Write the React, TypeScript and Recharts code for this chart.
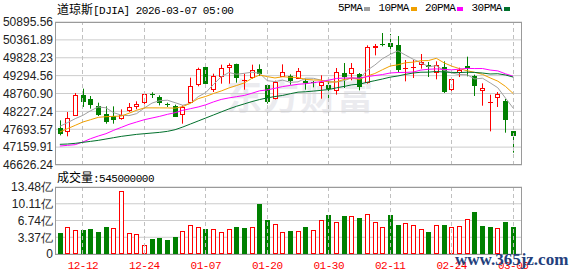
import React from 'react';
import { ComposedChart, Bar, Line, XAxis, YAxis, CartesianGrid, ReferenceLine } from 'recharts';

const DATES = ['12-09','12-10','12-11','12-12','12-15','12-16','12-17','12-18','12-19','12-22','12-23','12-24','12-26','12-29','12-30','12-31','01-02','01-05','01-06','01-07','01-08','01-09','01-12','01-13','01-14','01-15','01-16','01-20','01-21','01-22','01-23','01-26','01-27','01-28','01-29','01-30','02-02','02-03','02-04','02-05','02-06','02-09','02-10','02-11','02-12','02-13','02-17','02-18','02-19','02-20','02-23','02-24','02-25','02-26','02-27','03-02','03-03','03-04','03-05','03-06'];

const OPEN = [47730,47611,48100,48716,48596,48387,48139,48099,47989,48228,48348,48467,48736,48646,48447,48387,48129,48487,49024,49552,48865,49253,49532,49631,49134,49233,49492,49014,48586,49253,49273,49194,49144,49094,48975,49024,48835,49373,49353,49333,49074,50119,50229,50268,50209,49492,49542,49622,49622,49383,49552,48855,49373,49592,49283,48825,48477,48626,48537,47641];
const HIGH = [47959,48208,48776,48905,48686,48487,48377,48377,48288,48477,48527,48776,48796,48706,48487,48427,48407,49233,49532,49651,49353,49622,49661,49651,49353,49622,49631,49034,49144,49631,49333,49522,49203,49134,49303,49144,49522,49671,49671,49373,50199,50239,50567,50537,50477,49761,49761,49940,49701,49721,49721,49184,49532,49860,49323,49064,48726,48805,48597,47641];
const LOW = [47511,47482,48100,48358,48308,48089,47860,47860,47979,48208,48288,48437,48626,48407,48358,48059,47860,48487,48975,48975,48805,49054,49054,49084,48875,49203,49283,48457,48586,49253,49024,49194,48875,48945,48606,48586,48726,48925,49154,48855,49054,49900,50169,49950,49403,49124,49223,49502,49253,49184,48776,48786,49253,49273,48686,48397,47631,48358,47591,46994];
const CLOSE = [47561,48039,48706,48497,48427,48129,47910,47979,48129,48348,48437,48746,48716,48487,48417,48069,48367,48985,49492,49034,49283,49512,49612,49233,49174,49452,49353,48507,49094,49392,49124,49422,49064,49074,49104,48885,49403,49253,49512,48955,50149,50179,50209,50159,49472,49512,49562,49701,49552,49622,48805,49184,49472,49522,48995,48915,48497,48736,47979,47502];
const PREV_CLOSE = 47740;

const MA5 = [47780,47890,48009,48109,48246,48360,48334,48188,48115,48099,48161,48328,48475,48547,48561,48487,48411,48465,48666,48789,49032,49261,49387,49335,49363,49397,49365,49144,49116,49160,49094,49108,49219,49215,49158,49110,49106,49144,49231,49202,49454,49610,49801,49930,50034,49906,49783,49681,49560,49590,49448,49373,49327,49321,49196,49218,49080,48933,48624,48326];
const MA10 = [47611,47711,47810,47910,47979,48049,48069,48079,48089,48172,48260,48331,48332,48331,48330,48324,48370,48470,48606,48675,48760,48836,48926,49000,49076,49214,49313,49265,49225,49261,49245,49236,49182,49166,49159,49102,49107,49182,49223,49180,49282,49358,49472,49581,49618,49680,49696,49741,49745,49812,49677,49578,49504,49440,49393,49333,49227,49130,48973,48761];
const MA20 = [47193,47213,47233,47313,47412,47491,47561,47661,47750,47840,47910,47979,48029,48079,48139,48188,48258,48308,48358,48424,48510,48584,48629,48666,48703,48769,48841,48868,48916,48968,49002,49036,49054,49083,49117,49158,49210,49223,49224,49220,49264,49297,49327,49373,49388,49391,49402,49461,49484,49496,49480,49468,49488,49511,49505,49507,49461,49436,49349,49276];
const MA30 = [47243,47253,47273,47303,47332,47362,47402,47442,47481,47511,47541,47561,47581,47601,47631,47680,47760,47850,47940,48030,48120,48210,48300,48380,48450,48520,48580,48630,48670,48703,48755,48801,48813,48833,48855,48880,48930,48973,49019,49039,49096,49144,49194,49249,49284,49333,49372,49396,49398,49418,49402,49391,49386,49396,49390,49372,49344,49351,49314,49251];

// volume in 亿 (1e8)
const VOLUME = [4.32,5.45,4.85,4.85,5.05,4.52,5.45,5.25,12.63,4.32,4.05,1.86,2.92,3.12,2.73,3.32,4.65,5.78,5.45,5.05,5.05,4.45,5.05,5.45,5.25,5.45,10.04,6.85,5.98,4.45,4.59,4.59,5.38,4.79,6.91,7.78,6.38,7.58,7.58,7.18,7.98,6.38,5.38,7.78,5.78,6.18,5.78,4.99,4.39,5.78,5.78,5.38,5.58,6.98,8.38,5.58,5.38,5.18,6.38,5.45];

const PRICE_TICKS = [46626.24,47159.91,47693.57,48227.24,48760.90,49294.56,49828.23,50361.89,50895.56];
const VOLUME_TICKS = [0,3.37,6.74,10.11,13.48];
const DATE_LABELS = ['12-12','12-24','01-07','01-20','01-30','02-11','02-24','03-06'];

const TITLE_NAME = '道琼斯';
const TITLE_REST = '[DJIA] 2026-03-07 05:00';
const MA_NAMES = ['5PMA','10PMA','20PMA','30PMA'];
const MA_COLORS = ['#a0a0a0','#f0a000','#ff00ff','#00702c'];
const VOLUME_TITLE = '成交量';
const UNIT = '亿';
const WATERMARK = '东方财富';
const SITE_MARK = 'www.365jz.com';

const UP = '#ff0000';
const DOWN = '#008000';
const MONO = '"Liberation Mono", monospace';
const CJK = '"Noto Sans CJK SC", sans-serif';

const PRICE_MIN = PRICE_TICKS[0];
const PRICE_MAX = PRICE_TICKS[PRICE_TICKS.length - 1];
const VOL_MAX = VOLUME_TICKS[VOLUME_TICKS.length - 1];

const data = DATES.map((d, i) => ({
  date: d,
  open: OPEN[i],
  high: HIGH[i],
  low: LOW[i],
  close: CLOSE[i],
  range: [LOW[i], HIGH[i]],
  ma5: MA5[i],
  ma10: MA10[i],
  ma20: MA20[i],
  ma30: MA30[i],
  vol: VOLUME[i],
  volUp: CLOSE[i] >= (i === 0 ? PREV_CLOSE : CLOSE[i - 1]),
}));

const Candle = (props: any) => {
  const { x, y, width, height, payload } = props;
  if (x == null || y == null || !payload) return null;
  const top = Math.min(y, y + height);
  const h = Math.abs(height);
  const hi = payload.high, lo = payload.low;
  const py = (v: number) => (hi === lo ? top : top + ((hi - v) / (hi - lo)) * h);
  const cx = Math.round(x + width / 2);
  const up = payload.close >= payload.open;
  const color = up ? UP : DOWN;
  const yo = py(payload.open), yc = py(payload.close);
  const bt = Math.round(Math.min(yo, yc));
  const bb = Math.round(Math.max(yo, yc));
  return (
    <g>
      <line x1={cx + 0.5} x2={cx + 0.5} y1={top} y2={top + h} stroke={color} strokeWidth={1} />
      {up && bb - bt >= 2 ? (
        <rect x={cx - 2 + 0.5} y={bt + 0.5} width={4} height={bb - bt - 1} fill="#fff" stroke={color} strokeWidth={1} />
      ) : (
        <rect x={cx - 2} y={bt} width={5} height={Math.max(bb - bt, 1)} fill={color} />
      )}
    </g>
  );
};

const VolBar = (props: any) => {
  const { x, y, width, height, payload } = props;
  if (x == null || y == null || !payload) return null;
  const cx = Math.round(x + width / 2);
  const top = Math.round(Math.min(y, y + height));
  const bottom = Math.round(Math.max(y, y + height));
  if (payload.volUp) {
    return <rect x={cx - 2 + 0.5} y={top + 0.5} width={4} height={Math.max(bottom - top - 1, 0)} fill="#fff" stroke={UP} strokeWidth={1} />;
  }
  return <rect x={cx - 2} y={top} width={5} height={bottom - top} fill={DOWN} />;
};

// Snap the library-computed reference-line position to a whole pixel so the 1px dashes stay crisp.
const DashedShape = (p: any) => {
  if (p == null || p.x1 == null || p.y1 == null) return <g />;
  const x = Math.floor(p.x1) + 0.5;
  return <line x1={x} x2={x} y1={p.y1} y2={p.y2} stroke="#c0c0c0" strokeWidth={1} strokeDasharray="4 3" />;
};

const dashed = (key: string) =>
  DATE_LABELS.map((d) => (
    <ReferenceLine key={key + d} x={d} stroke="#c0c0c0" strokeDasharray="4 3" shape={DashedShape} />
  ));

const tickStyle = { fontFamily: '"Liberation Sans", Arial, sans-serif', fontSize: 12, fill: '#222' };

export default function App() {
  return (
    <div style={{ position: 'absolute', left: 0, top: 0, width: 578, height: 276, background: '#fff', overflow: 'hidden' }}>
      <div style={{ position: 'absolute', left: 226, top: 72, fontFamily: CJK, fontWeight: 700, fontSize: 36, lineHeight: '44px', color: '#ebebef', letterSpacing: 1 }}>
        {WATERMARK}
      </div>

      <div style={{ position: 'absolute', left: 0, top: 0 }}>
        <ComposedChart width={578} height={176} data={data} margin={{ top: 22, right: 56, bottom: 11, left: 0 }}>
          <CartesianGrid horizontal={true} vertical={false} stroke="#cccccc" />
          <XAxis dataKey="date" hide padding={{ left: 1, right: 5 }} />
          <YAxis
            domain={[PRICE_MIN, PRICE_MAX]}
            ticks={PRICE_TICKS}
            width={55}
            tickLine={false}
            axisLine={false}
            tickSize={0}
            tickMargin={2}
            tick={tickStyle}
            tickFormatter={(v: number) => v.toFixed(2)}
            allowDataOverflow
            interval={0}
          />
          {dashed('p')}
          <Bar dataKey="range" barSize={5} shape={<Candle />} isAnimationActive={false} />
          <Line dataKey="ma5" stroke={MA_COLORS[0]} strokeWidth={1} dot={false} isAnimationActive={false} />
          <Line dataKey="ma10" stroke={MA_COLORS[1]} strokeWidth={1} dot={false} isAnimationActive={false} />
          <Line dataKey="ma20" stroke={MA_COLORS[2]} strokeWidth={1} dot={false} isAnimationActive={false} />
          <Line dataKey="ma30" stroke={MA_COLORS[3]} strokeWidth={1} dot={false} isAnimationActive={false} />
        </ComposedChart>
      </div>

      <div style={{ position: 'absolute', left: 0, top: 177 }}>
        <ComposedChart width={578} height={99} data={data} margin={{ top: 10, right: 56, bottom: 0, left: 0 }}>
          <CartesianGrid horizontal={true} vertical={false} stroke="#cccccc" />
          <XAxis
            dataKey="date"
            padding={{ left: 1, right: 5 }}
            ticks={DATE_LABELS}
            interval={0}
            height={22}
            tickLine={false}
            axisLine={false}
            tickSize={0}
            tickMargin={7}
            tick={{ fontFamily: MONO, fontSize: 11, fill: '#ff0000', style: { letterSpacing: '-0.5px' } } as any}
          />
          <YAxis
            domain={[0, VOL_MAX]}
            ticks={VOLUME_TICKS}
            width={55}
            tickLine={false}
            axisLine={false}
            tickSize={0}
            tickMargin={2}
            tick={tickStyle}
            tickFormatter={(v: number) => (v === 0 ? '0' : v.toFixed(2) + UNIT)}
            allowDataOverflow
            interval={0}
          />
          {dashed('v')}
          <Bar dataKey="vol" barSize={5} shape={<VolBar />} isAnimationActive={false} />
        </ComposedChart>
      </div>

      <div style={{ position: 'absolute', left: 55, top: 22, width: 467, height: 143, boxSizing: 'border-box', border: '1px solid #9a9a9a', pointerEvents: 'none' }} />
      <div style={{ position: 'absolute', left: 55, top: 187, width: 467, height: 68, boxSizing: 'border-box', border: '1px solid #9a9a9a', pointerEvents: 'none' }} />

      <div style={{ position: 'absolute', left: 57, top: 1, height: 15, lineHeight: '15px', whiteSpace: 'nowrap', color: '#000' }}>
        <span style={{ fontFamily: CJK, fontSize: 12 }}>{TITLE_NAME}</span>
        <span style={{ fontFamily: MONO, fontSize: 11, letterSpacing: '-0.5px' }}>{TITLE_REST}</span>
      </div>

      <div style={{ position: 'absolute', left: 338, top: 1, height: 15, lineHeight: '15px', whiteSpace: 'nowrap', display: 'flex', alignItems: 'center', color: '#000' }}>
        {MA_NAMES.map((n, i) => (
          <React.Fragment key={n}>
            <span style={{ fontFamily: MONO, fontSize: 11, letterSpacing: '-0.5px', marginLeft: i === 0 ? 0 : 8 }}>{n}</span>
            <span style={{ display: 'inline-block', width: 6, height: 4, background: MA_COLORS[i], marginLeft: 2 }} />
          </React.Fragment>
        ))}
      </div>

      <div style={{ position: 'absolute', left: 57, top: 169, height: 15, lineHeight: '15px', whiteSpace: 'nowrap', color: '#000' }}>
        <span style={{ fontFamily: CJK, fontSize: 12 }}>{VOLUME_TITLE}</span>
        <span style={{ fontFamily: MONO, fontSize: 11, letterSpacing: '-0.5px' }}>{':' + Math.round(VOLUME[VOLUME.length - 1] * 1e8)}</span>
      </div>

      <div style={{ position: 'absolute', left: 455, top: 249, fontFamily: '"Liberation Serif", serif', fontWeight: 700, fontSize: 17, lineHeight: '22px', color: '#23407c', whiteSpace: 'nowrap' }}>
        {SITE_MARK}
      </div>
    </div>
  );
}
